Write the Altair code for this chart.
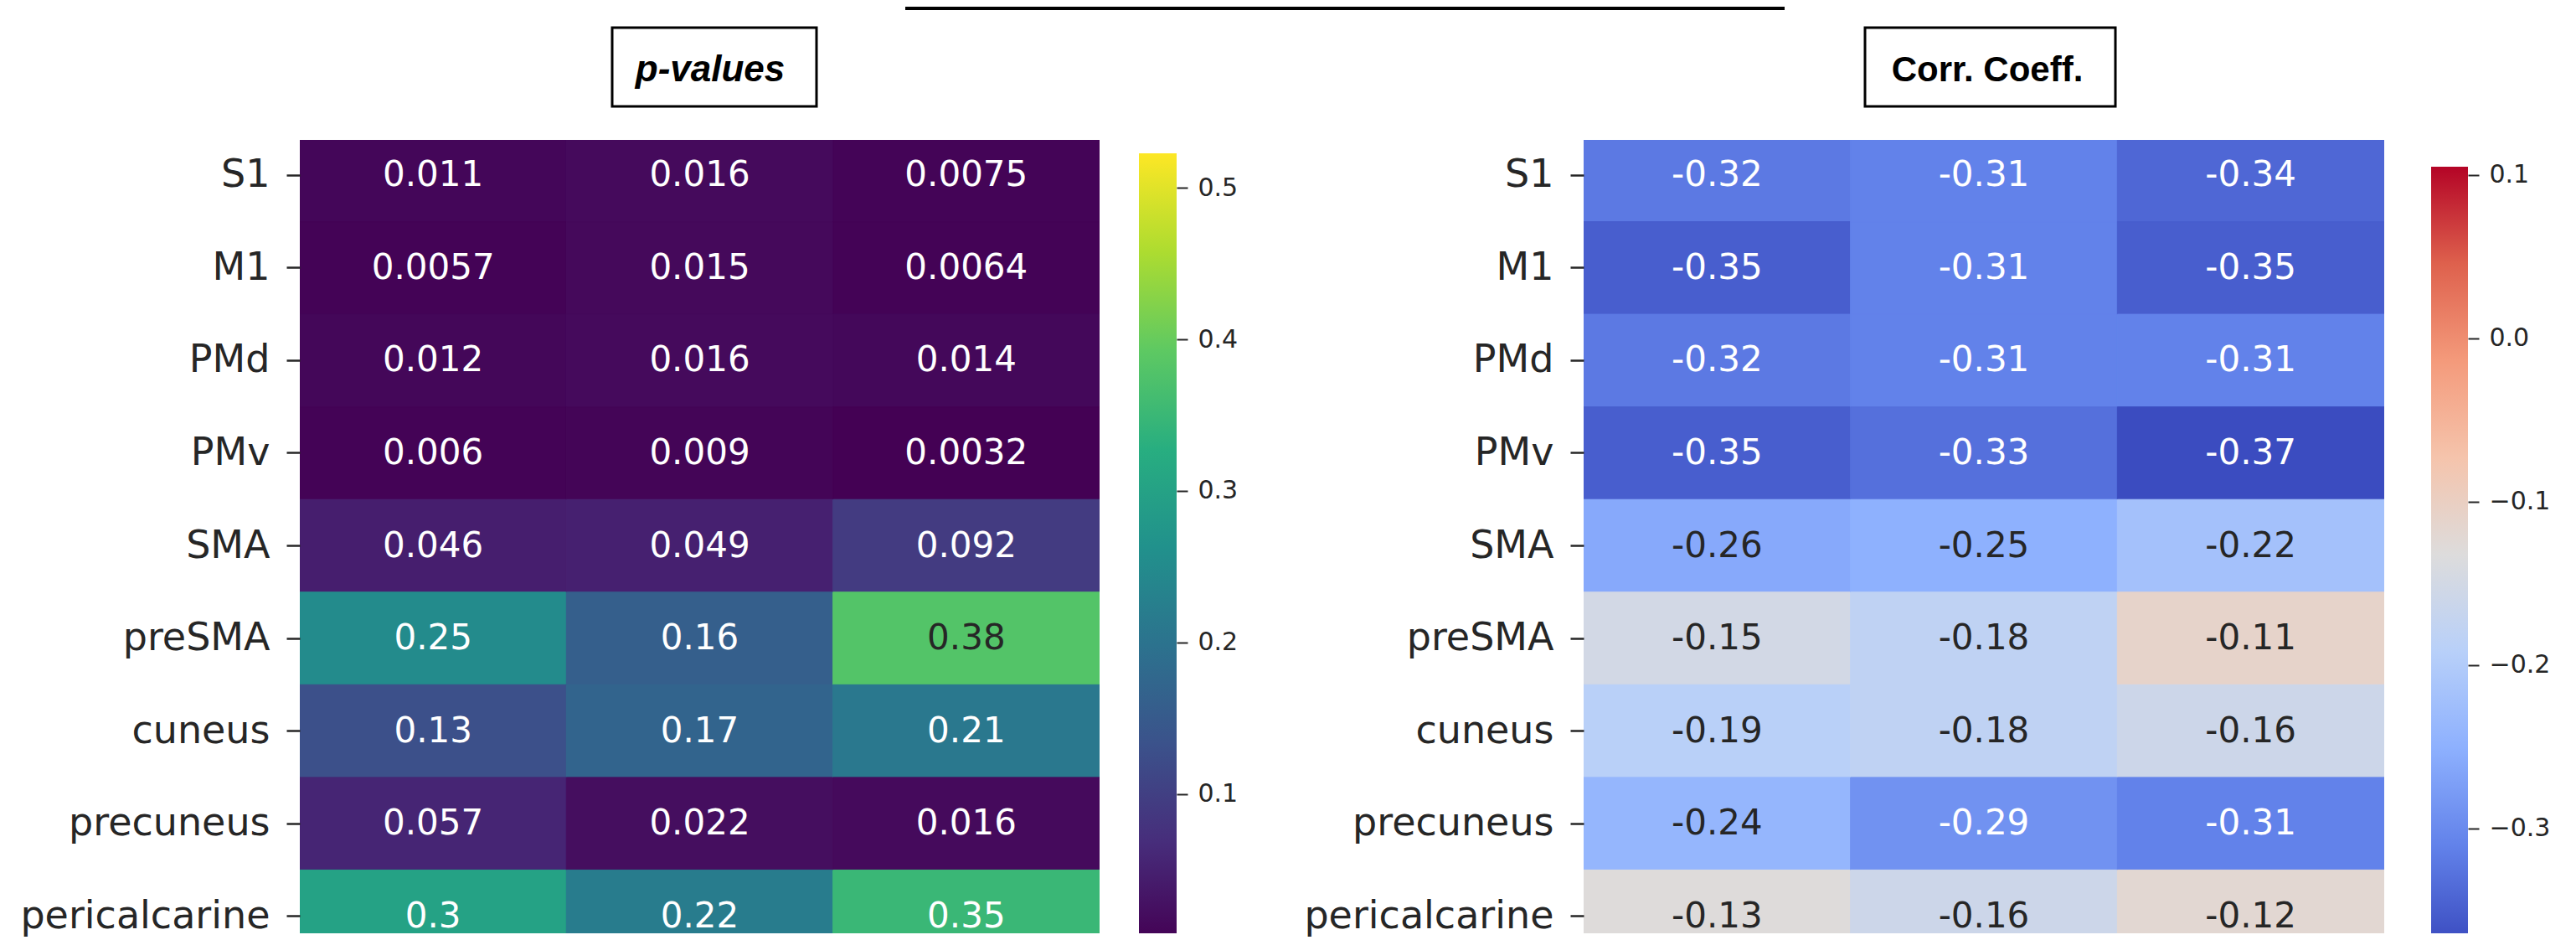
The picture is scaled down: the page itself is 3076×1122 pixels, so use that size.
import altair as alt
import pandas as pd

# ---------------- data ----------------
regions = ["S1", "M1", "PMd", "PMv", "SMA", "preSMA", "cuneus", "precuneus", "pericalcarine"]
columns = ["c1", "c2", "c3"]

p_col1 = [0.011, 0.0057, 0.012, 0.006, 0.046, 0.25, 0.13, 0.057, 0.3]
p_col2 = [0.016, 0.015, 0.016, 0.009, 0.049, 0.16, 0.17, 0.022, 0.22]
p_col3 = [0.0075, 0.0064, 0.014, 0.0032, 0.092, 0.38, 0.21, 0.016, 0.35]

r_col1 = [-0.32, -0.35, -0.32, -0.35, -0.26, -0.15, -0.19, -0.24, -0.13]
r_col2 = [-0.31, -0.31, -0.31, -0.33, -0.25, -0.18, -0.18, -0.29, -0.16]
r_col3 = [-0.34, -0.35, -0.31, -0.37, -0.22, -0.11, -0.16, -0.31, -0.12]

p_limits = [0.0032, 0.5227]
r_limits = [-0.37, 0.105]
p_ticks = [0.1, 0.2, 0.3, 0.4, 0.5]
r_ticks = [-0.3, -0.2, -0.1, 0.0, 0.1]

viridis_stops = ["#440154", "#472d7b", "#3b528b", "#2c728e", "#21918c",
                 "#28ae80", "#5ec962", "#addc30", "#fde725"]
coolwarm_stops = ["#3b4cc0", "#6282ea", "#8db0fe", "#b8d0f9", "#dddcdc",
                  "#f5c4ac", "#f49a7b", "#de614d", "#b40426"]

FONT = "DejaVu Sans"
TXT_DARK = "#262626"
TXT_LIGHT = "#ffffff"

W_L = 955        # heatmap widths
W_R = 956
ROW_RANGE = [-13, 982]   # rows continue above and below the cropped picture
H = 947          # visible height
CB_W_L = 45
CB_W_R = 44


def long_df(col_lists, light_text):
    rows = []
    for c, vals in zip(columns, col_lists):
        for r, v in zip(regions, vals):
            rows.append({"region": r, "col": c, "v": v, "label": f"{v:.2g}",
                         "tc": "light" if light_text(v) else "dark"})
    return pd.DataFrame(rows)


p_df = long_df([p_col1, p_col2, p_col3], lambda v: v < 0.36)
r_df = long_df([r_col1, r_col2, r_col3], lambda v: v <= -0.285)


def stops_domain(lo, hi, n):
    return [lo + (hi - lo) * i / (n - 1) for i in range(n)]


p_color = alt.Scale(domain=stops_domain(p_limits[0], p_limits[1], len(viridis_stops)),
                    range=viridis_stops, interpolate="rgb", clamp=True)
r_color = alt.Scale(domain=stops_domain(r_limits[0], r_limits[1], len(coolwarm_stops)),
                    range=coolwarm_stops, interpolate="rgb", clamp=True)


def heatmap(df, cscale, width, title, title_style, title_x, box, extra=()):
    x = alt.X("col:N", sort=columns, axis=None,
              scale=alt.Scale(paddingInner=0, paddingOuter=0))
    y = alt.Y("region:N", sort=regions,
              scale=alt.Scale(range=ROW_RANGE, paddingInner=0, paddingOuter=0),
              axis=alt.Axis(title=None, labelFont=FONT, labelFontSize=46,
                            labelColor=TXT_DARK, tickSize=16, tickWidth=2.5,
                            tickColor=TXT_DARK, labelPadding=20, domain=False,
                            labelLimit=0))
    rect = alt.Chart(df).mark_rect(strokeWidth=1, clip=True).encode(
        x=x, y=y,
        color=alt.Color("v:Q", scale=cscale, legend=None),
        stroke=alt.Stroke("v:Q", scale=cscale, legend=None))
    text = alt.Chart(df).mark_text(font=FONT, fontSize=42, baseline="middle",
                                   clip=True).encode(
        x=x, y=y, text="label:N",
        color=alt.Color("tc:N", scale=alt.Scale(domain=["light", "dark"],
                                                range=[TXT_LIGHT, TXT_DARK]),
                        legend=None))
    tdf = pd.DataFrame({"t": [title]})
    ttl = alt.Chart(tdf).mark_text(baseline="middle", align="center", color="black",
                                   **title_style).encode(
        text="t:N", x=alt.value(title_x), y=alt.value(-83))
    bx = alt.Chart(tdf).mark_rect(fillOpacity=0, stroke="black", strokeWidth=3).encode(
        x=alt.value(box[0]), x2=alt.value(box[1]), y=alt.value(-134), y2=alt.value(-40))
    layers = [rect, text, ttl, bx, *extra]
    return (alt.layer(*layers)
            .resolve_scale(color="independent", stroke="independent")
            .properties(width=width, height=H))


def colorbar(limits, ticks, colors, width, px_range):
    grad = alt.LinearGradient(
        gradient="linear", x1=0, x2=0, y1=1, y2=0,
        stops=[alt.GradientStop(offset=i / (len(colors) - 1), color=c)
               for i, c in enumerate(colors)])
    cdf = pd.DataFrame({"lo": [limits[0]], "hi": [limits[1]]})
    return alt.Chart(cdf).mark_rect(fill=grad, strokeWidth=0, clip=True).encode(
        x=alt.value(0), x2=alt.value(width),
        y=alt.Y("lo:Q",
                scale=alt.Scale(domain=limits, range=px_range, nice=False, zero=False),
                axis=alt.Axis(orient="right", values=ticks, format=".1f", domain=False,
                              grid=False, tickSize=13, tickWidth=2, tickColor=TXT_DARK,
                              labelFont=FONT, labelFontSize=30, labelColor=TXT_DARK,
                              labelPadding=12, title=None)),
        y2="hi:Q",
    ).properties(width=width, height=H)


def spacer(w):
    return alt.Chart(pd.DataFrame({"z": [0]})).mark_point(opacity=0).encode(
        x=alt.value(0), y=alt.value(0)).properties(width=w, height=H)


deco_df = pd.DataFrame({"t": [""]})
# frame edge of the box at the very top of the picture
top_line = alt.Chart(deco_df).mark_rule(strokeWidth=4, color="black").encode(
    x=alt.value(723), x2=alt.value(1773), y=alt.value(-157))
# invisible anchor fixing the left edge of the drawing
anchor = alt.Chart(deco_df).mark_rule(strokeOpacity=0, strokeWidth=1).encode(
    x=alt.value(-349.5), y=alt.value(0), y2=alt.value(2))

left = heatmap(p_df, p_color, W_L, "p-values",
               dict(font="Liberation Sans", fontSize=44, fontWeight="bold", fontStyle="italic"),
               490, (373, 617), extra=(top_line, anchor))
right = heatmap(r_df, r_color, W_R, "Corr. Coeff.",
                dict(font="Liberation Sans", fontSize=42, fontWeight="bold"),
                482, (336, 635))

chart = alt.hconcat(
    left, spacer(47),
    colorbar(p_limits, p_ticks, viridis_stops, CB_W_L, [956, 16]),
    spacer(486),
    right, spacer(56),
    colorbar(r_limits, r_ticks, coolwarm_stops, CB_W_R, [958, 32]),
    spacing=0, bounds="flush",
).properties(
    padding=0,
    background="white",
).configure_view(strokeWidth=0)

chart.save("out.html", embed_options={"renderer": "svg", "actions": False})
